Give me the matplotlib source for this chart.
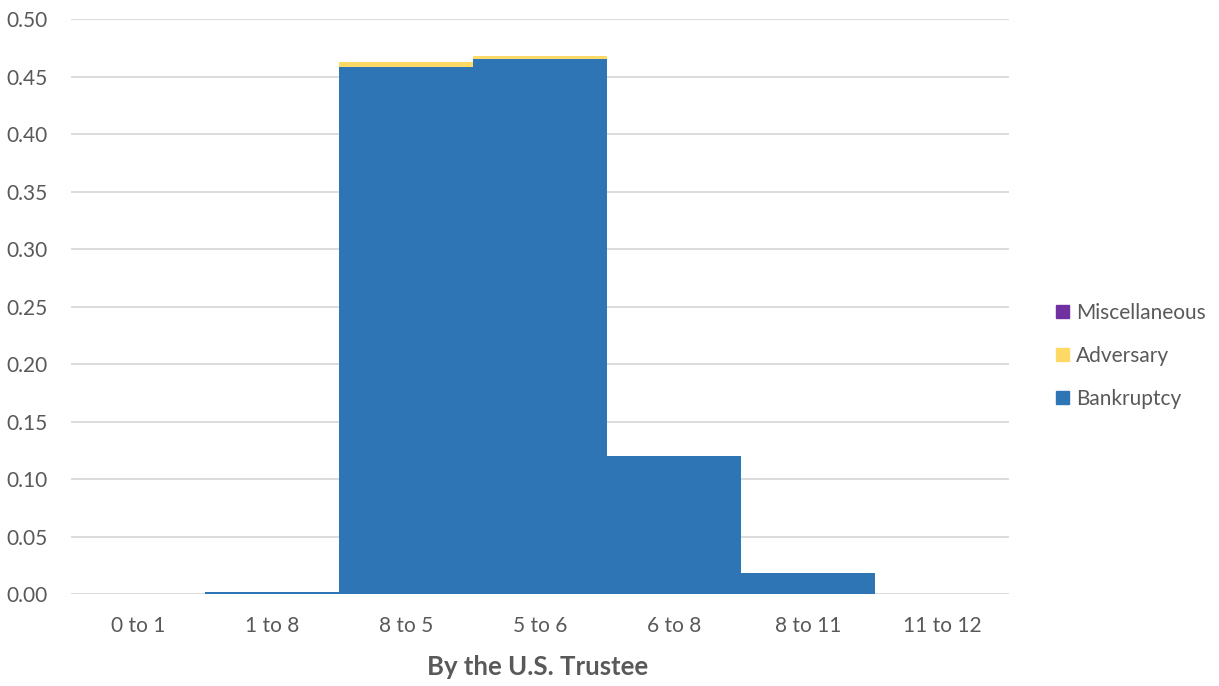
import matplotlib
matplotlib.use("Agg")
import matplotlib.pyplot as plt
from matplotlib.patches import Patch
from matplotlib.ticker import MultipleLocator, FormatStrFormatter
import numpy as np

# chart data
categories = ["0 to 1", "1 to 8", "8 to 5", "5 to 6", "6 to 8", "8 to 11", "11 to 12"]
bankruptcy = [0.0, 0.002, 0.459, 0.466, 0.120, 0.018, 0.0]
adversary = [0.0, 0.0, 0.004, 0.0025, 0.0, 0.0, 0.0]
miscellaneous = [0.0, 0.0, 0.0, 0.0, 0.0, 0.0, 0.0]

c_bank = "#2E75B6"
c_adv = "#FFD966"
c_misc = "#7030A0"
text_col = "#595959"

plt.rcParams["font.family"] = ["Lato", "DejaVu Sans"]

fig = plt.figure(figsize=(12.19, 6.86), dpi=100)
ax = fig.add_axes([0.0582, 0.1341, 0.7695, 0.8375])

x = np.arange(len(categories))
bank = np.array(bankruptcy)
adv = np.array(adversary)
misc = np.array(miscellaneous)

ax.bar(x, bank, width=1.0, color=c_bank, zorder=3)
ax.bar(x, adv, width=1.0, bottom=bank, color=c_adv, zorder=3)
ax.bar(x, misc, width=1.0, bottom=bank + adv, color=c_misc, zorder=3)

ax.set_xlim(-0.5, len(categories) - 0.5)
ax.set_ylim(0, 0.5)
ax.yaxis.set_major_locator(MultipleLocator(0.05))
ax.yaxis.set_major_formatter(FormatStrFormatter("%.2f"))
ax.grid(axis="y", color="#D9D9D9", linewidth=1.3, zorder=0)
ax.set_axisbelow(True)
for s in ax.spines.values():
    s.set_visible(False)
ax.tick_params(axis="both", length=0, labelsize=15, labelcolor=text_col)
ax.tick_params(axis="y", pad=17)
ax.tick_params(axis="x", pad=16)
ax.set_xticks(x)
ax.set_xticklabels(categories)

fig.text(0.4413, 0.027, "By the U.S. Trustee", ha="center", va="center",
         fontsize=18.5, fontweight="bold", color=text_col)

handles = [Patch(color=c_misc, label="Miscellaneous"),
           Patch(color=c_adv, label="Adversary"),
           Patch(color=c_bank, label="Bankruptcy")]
fig.legend(handles=handles, loc="center left", bbox_to_anchor=(0.851, 0.481),
           frameon=False, fontsize=15, labelcolor=text_col,
           handlelength=0.6, handleheight=0.6, handletextpad=0.35,
           labelspacing=1.1)

fig.savefig("out.png", dpi=100)
